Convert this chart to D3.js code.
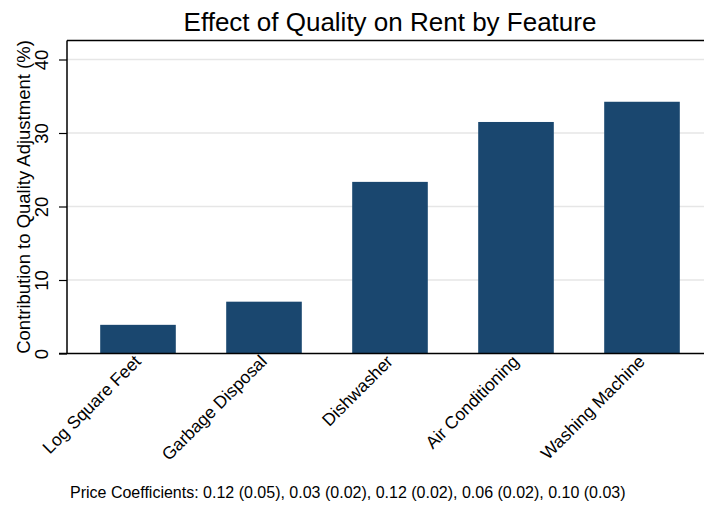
<!DOCTYPE html>
<html>
<head>
<meta charset="utf-8">
<script src="https://cdn.jsdelivr.net/npm/d3@7/dist/d3.min.js"></script>
<style>
  html, body { margin: 0; padding: 0; background: #fff; }
  svg { display: block; font-family: "Liberation Sans", Arial, Helvetica, sans-serif; }
</style>
</head>
<body>
<svg id="chart" width="704" height="506"></svg>
<script>
const categories = ["Log Square Feet", "Garbage Disposal", "Dishwasher", "Air Conditioning", "Washing Machine"];
const values = [3.9, 7.05, 23.35, 31.5, 34.25];
const yTicks = [0, 10, 20, 30, 40];
const titleText = "Effect of Quality on Rent by Feature";
const yTitleText = "Contribution to Quality Adjustment (%)";
const noteText = "Price Coefficients: 0.12 (0.05), 0.03 (0.02), 0.12 (0.02), 0.06 (0.02), 0.10 (0.03)";

const svg = d3.select("#chart");
const W = 704, H = 506;
const plotLeft = 67, plotTop = 40.5, plotBottom = 353.5;
const FONT = "Liberation Sans, Arial, sans-serif";

const x = d3.scaleBand().domain(categories).range([plotLeft, 713]).paddingInner(0.4).paddingOuter(0.2635);
const y = d3.scaleLinear().domain([0, 40]).range([plotBottom, 59.5]);

// gridlines
svg.append("g").selectAll("line").data(yTicks.filter(d => d > 0)).join("line")
  .attr("x1", plotLeft).attr("x2", W)
  .attr("y1", d => y(d)).attr("y2", d => y(d))
  .attr("stroke", "#e6e6e6").attr("stroke-width", 1.5);

// bars
svg.append("g").selectAll("rect").data(categories).join("rect")
  .attr("x", d => x(d))
  .attr("width", x.bandwidth())
  .attr("y", (d, i) => y(values[i]))
  .attr("height", (d, i) => y(0) - y(values[i]))
  .attr("fill", "#1a476f");

// top frame line
svg.append("line").attr("x1", plotLeft).attr("x2", W).attr("y1", plotTop).attr("y2", plotTop)
  .attr("stroke", "#000").attr("stroke-width", 1.5);

// y axis
const yAxis = d3.axisLeft(y).tickValues(yTicks).tickSize(8).tickPadding(0).tickFormat(d3.format("d"));
const gy = svg.append("g").attr("transform", `translate(${plotLeft},0)`).call(yAxis);
gy.select(".domain").remove();
gy.append("line").attr("x1", 0).attr("x2", 0).attr("y1", plotTop).attr("y2", plotBottom)
  .attr("stroke", "#000").attr("stroke-width", 1.5);
gy.selectAll(".tick line").attr("stroke", "#000").attr("stroke-width", 1.2);
gy.selectAll(".tick text")
  .attr("x", null).attr("dy", null)
  .attr("transform", "translate(-19,0) rotate(-90)")
  .attr("text-anchor", "middle")
  .attr("font-size", 18.5).attr("fill", "#000")
  .attr("font-family", FONT);

// x axis
const xAxis = d3.axisBottom(x).tickSize(0).tickPadding(0);
const gx = svg.append("g").attr("transform", `translate(0,${plotBottom})`).call(xAxis);
gx.select(".domain").remove();
gx.append("line").attr("x1", 59).attr("x2", W).attr("y1", 0).attr("y2", 0)
  .attr("stroke", "#000").attr("stroke-width", 1.5);
gx.selectAll(".tick text")
  .attr("y", null).attr("dy", null)
  .attr("transform", "translate(4,9) rotate(-45)")
  .attr("text-anchor", "end")
  .attr("font-size", 17.5).attr("fill", "#000")
  .attr("font-family", FONT);

// y title
svg.append("text")
  .attr("transform", `translate(30,${(plotTop + plotBottom) / 2}) rotate(-90)`)
  .attr("text-anchor", "middle")
  .attr("font-size", 18.5)
  .text(yTitleText);

// title
svg.append("text")
  .attr("x", 390).attr("y", 31)
  .attr("text-anchor", "middle")
  .attr("font-size", 26)
  .text(titleText);

// note
svg.append("text")
  .attr("x", 70).attr("y", 498)
  .attr("font-size", 16)
  .text(noteText);
</script>
</body>
</html>
